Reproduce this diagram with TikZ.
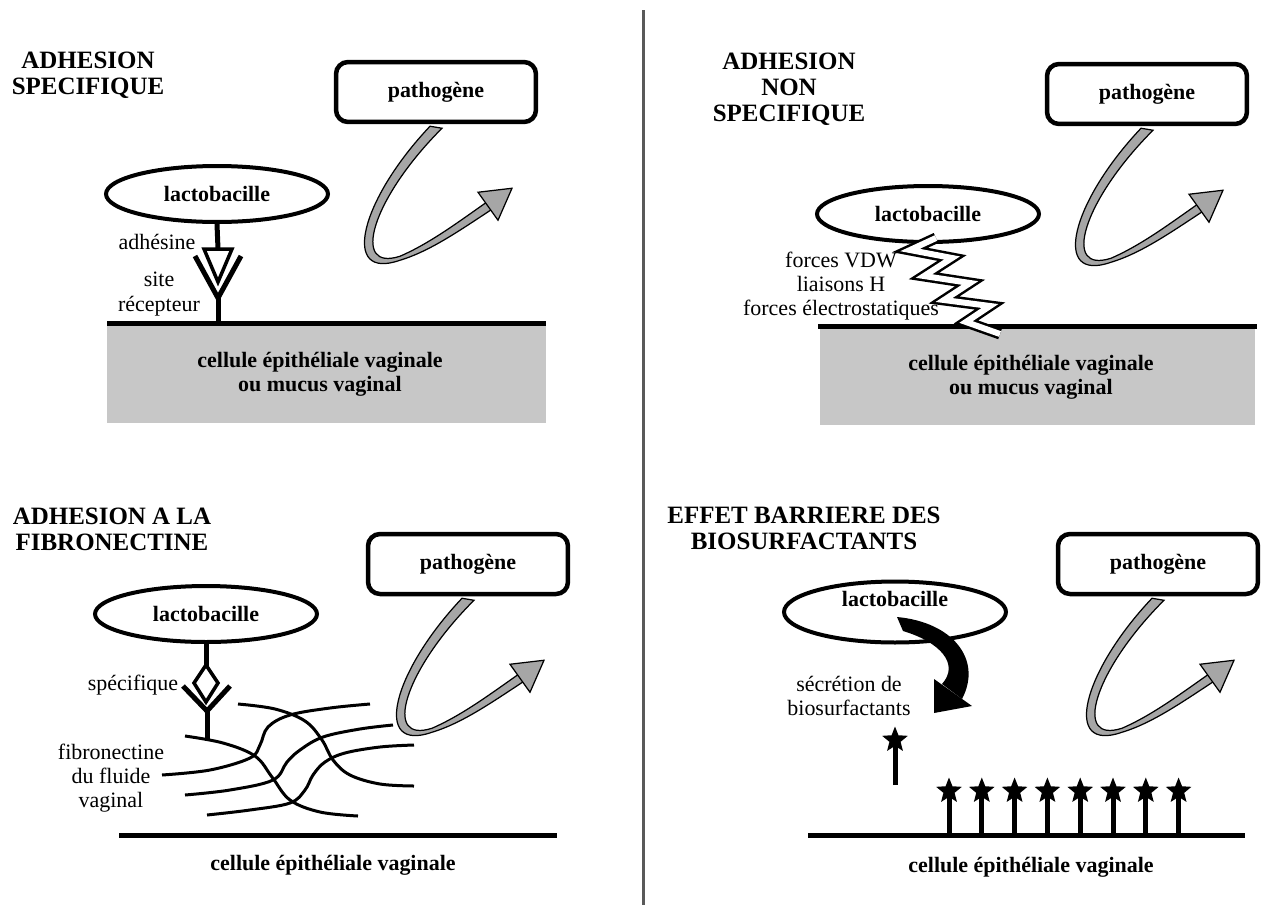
\documentclass[tikz,border=0pt]{standalone}
\usepackage{fontspec}
\setmainfont{Liberation Serif}
\usetikzlibrary{shapes.geometric}
\newcommand\lblfont{\fontsize{12.5}{13.8}\selectfont}
\newcommand\titlefont{\fontsize{14.2}{14.8}\selectfont\bfseries}
\def\pathoarrow(#1){%
  \begin{scope}[shift={(#1.south)}]
    \draw[line width=0.7pt, fill=black!35] (-6,2) .. controls (-76,76) and (-96,157) .. (-36,136) .. controls (-6,127) and (24,106) .. (56,85)
      -- (52,77) .. controls (22,98) and (-6,119) .. (-36,132) .. controls (-86,148) and (-64,74) .. (6,4) -- cycle;
    \draw[line width=0.7pt, fill=black!35, line join=miter] (42,68) -- (76,64) -- (62,96) -- cycle;
  \end{scope}}

\begin{document}
\begin{tikzpicture}[x=0.02cm, y=-0.02cm,
    titre/.style={align=center, font=\titlefont},
    lbl/.style={align=center, font=\lblfont},
    lblb/.style={align=center, font=\lblfont\bfseries},
    lacto/.style={ellipse, draw, line width=0.08cm, minimum width=4.44cm, minimum height=1.12cm, inner sep=0pt, font=\lblfont\bfseries},
    patho/.style={draw, fill=white, rounded corners=0.24cm, line width=0.09cm, minimum width=4cm, minimum height=1.2cm, font=\lblfont\bfseries},
    sol/.style={line width=0.1cm},
    fibre/.style={line width=0.06cm},
    recep/.style={line width=0.1cm, line join=miter},
    etoile/.style={star, star points=5, star point ratio=2.3, fill=black, minimum size=0.54cm, inner sep=0pt},
    eclair/.style={line width=0.05cm, double=white, double distance=0.12cm, line join=miter}]
  %%%%% START %%%%%
  \path[use as bounding box, fill=white] (0,0) rectangle (1261,910);

  \draw[line width=0.06cm, black!65] (643,10) -- (643,905);

  %%%%% adhesion specifique
  \node[titre] (titreA) at (88,75) {ADHESION\\SPECIFIQUE};
  \fill[black!22] (107,323) rectangle (546,423);
  \draw[sol] (107,323) -- (546,323);
  \node[lblb] (celluleA) at (320,374) {cellule épithéliale vaginale\\ou mucus vaginal};
  \node[patho] (pathoA) at (436,92) {pathogène};
  \pathoarrow(pathoA)
  \node[lacto] (lactoA) at (217,194) {lactobacille};
  \coordinate (adhA) at (218,249);
  \coordinate (recA) at (218,298);
  \draw[recep] (lactoA.south) -- (adhA);
  \draw[recep] (195,256) -- (recA) -- (241,256);
  \draw[line width=0.07cm, fill=white, line join=miter] (204,249) -- (232,249) -- (218,282) -- cycle;
  \draw[recep] (recA) -- (218,323);
  \node[lbl] (adhesine) at (157,242) {adhésine};
  \node[lbl] (siteA) at (159,294) {site\\récepteur};

  %%%%% adhesion non specifique
  \node[titre] (titreB) at (789,89) {ADHESION\\NON\\SPECIFIQUE};
  \fill[black!22] (820,328) rectangle (1255,425);
  \draw[sol] (818,326) -- (1257,326);
  \node[lblb] (celluleB) at (1031,377) {cellule épithéliale vaginale\\ou mucus vaginal};
  \node[patho] (pathoB) at (1147,94) {pathogène};
  \pathoarrow(pathoB)
  \node[lacto] (lactoB) at (928,214) {lactobacille};
  \draw[eclair] (936,238) -- (910,250) -- (952,258) -- (924,276) -- (970,283) -- (944,300) -- (990,306) -- (966,322) -- (1000,334);
  \node[lbl] (forces) at (841,286) {forces VDW\\liaisons H\\forces électrostatiques};

  %%%%% fibronectine
  \node[titre] (titreC) at (112,529) {ADHESION A LA\\FIBRONECTINE};
  \node[patho] (pathoC) at (468,564) {pathogène};
  \pathoarrow(pathoC)
  \node[lacto] (lactoC) at (206,614) {lactobacille};
  \draw[fibre] plot[smooth, tension=.6] coordinates {(238,704) (275,709) (305,721) (322,740) (333,760) (350,775) (380,784) (414,786)};
  \draw[fibre] plot[smooth, tension=.6] coordinates {(185,736) (223,743) (255,756) (272,777) (290,800) (320,812) (358,816)};
  \draw[fibre] plot[smooth, tension=.6] coordinates {(162,775) (210,770) (250,758) (260,745) (268,727) (290,715) (330,708) (370,704)};
  \draw[fibre] plot[smooth, tension=.6] coordinates {(185,795) (230,790) (273,780) (287,762) (300,750) (323,737) (360,729) (393,725)};
  \draw[fibre] plot[smooth, tension=.6] coordinates {(207,815) (250,810) (290,803) (305,790) (313,775) (325,762) (345,753) (380,747) (414,745)};
  \coordinate (recC) at (207,711);
  \draw[recep] (lactoC.south) -- (206,666);
  \draw[recep] (183,686) -- (recC) -- (230,686);
  \draw[line width=0.07cm, fill=white, line join=miter] (206,665) -- (218,683) -- (206,702) -- (194,683) -- cycle;
  \draw[recep] (recC) -- (207,739);
  \node[lbl] (specifique) at (133,685) {spécifique};
  \node[lbl] (fibronectine) at (111,778) {fibronectine\\du fluide\\vaginal};
  \draw[sol] (119,835) -- (557,835);
  \node[lblb] (celluleC) at (333,865) {cellule épithéliale vaginale};

  %%%%% biosurfactants
  \node[titre] (titreD) at (804,528) {EFFET BARRIERE DES\\BIOSURFACTANTS};
  \node[patho] (pathoD) at (1158,564) {pathogène};
  \pathoarrow(pathoD)
  \node[lacto, minimum height=1.22cm] (lactoD) at (895,612) {};
  \node[lblb] (lactoDtxt) at (895,599) {lactobacille};
  \fill (897,617) .. controls (952,622) and (983,659) .. (962,699) -- (942,684) .. controls (960,664) and (940,642) .. (903,631) -- cycle;
  \fill[line join=miter] (972,706) -- (934,713) -- (934,679) -- cycle;
  \node[lbl] (secretion) at (849,696) {sécrétion de\\biosurfactants};
  \draw[line width=0.1cm] (895,785) -- (895,745);
  \node[etoile] (etoileS) at (895,740) {};
  \draw[sol] (808,835) -- (1245,835);
  \foreach \i in {0,...,7} {
    \draw[line width=0.1cm] (949+32.8*\i,835) -- (949+32.8*\i,795);
    \node[etoile] (etoile\i) at (949+32.8*\i,791) {};
  }
  \node[lblb] (celluleD) at (1031,867) {cellule épithéliale vaginale};

  %%%%% END %%%%%
\end{tikzpicture}
\end{document}
